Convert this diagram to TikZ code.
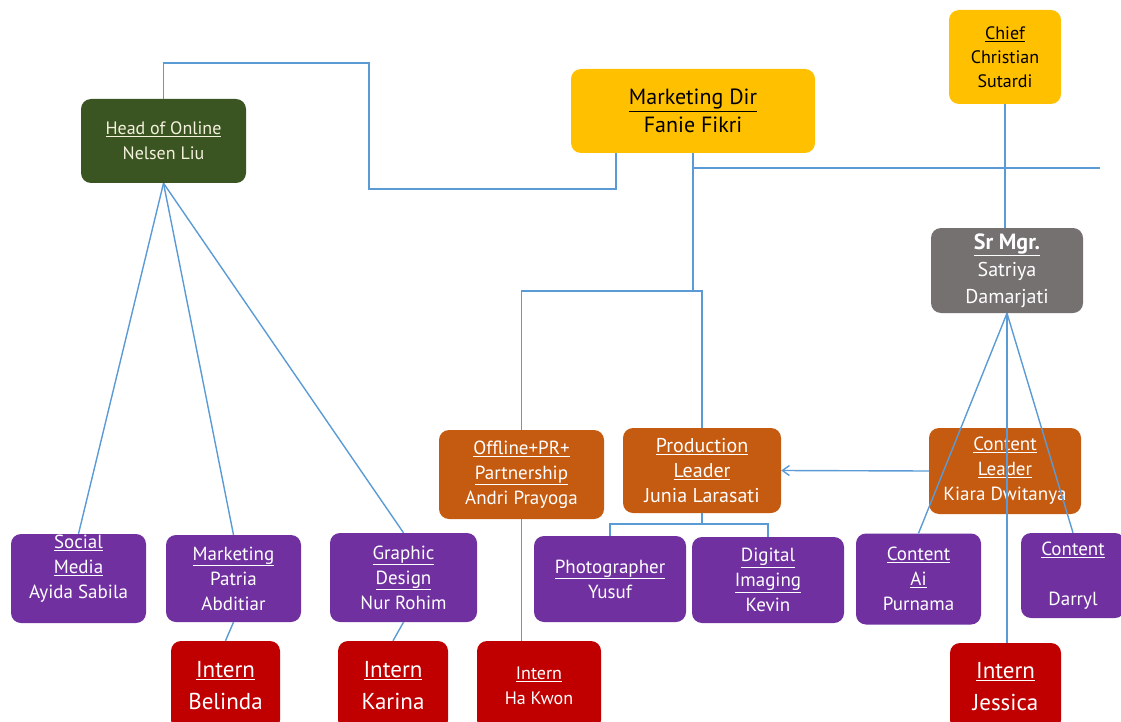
\documentclass[tikz,border=0pt]{standalone}
\usepackage{fontspec}
\setmainfont{PT Sans}
\usetikzlibrary{arrows.meta,calc}
\definecolor{lnk}{HTML}{5B9BD5}
\definecolor{cgreen}{HTML}{3A5422}
\definecolor{cgold}{HTML}{FFC000}
\definecolor{cgray}{HTML}{767171}
\definecolor{corange}{HTML}{C55A11}
\definecolor{cpurple}{HTML}{7030A0}
\definecolor{cred}{HTML}{C00000}
\definecolor{ccream}{HTML}{F4F1DC}
\begin{document}
\begin{tikzpicture}[x=1pt,y=-1pt,
  box/.style={rounded corners=10pt, align=center, inner sep=0pt, text=white, draw=none},
  gbox/.style={box, fill=cgreen, text=ccream, font=\fontsize{18}{25}\selectfont},
  ybox/.style={box, fill=cgold, text=black},
  rbox/.style={box, fill=corange, font=\fontsize{19}{25}\selectfont},
  pbox/.style={box, fill=cpurple, font=\fontsize{19}{25}\selectfont},
  ibox/.style={box, fill=cred, font=\fontsize{23}{32}\selectfont},
  conn/.style={draw=lnk, line width=1.4pt}]
\useasboundingbox (0,0) rectangle (1121,722);
\clip (0,0) rectangle (1121,722);

% nodes
\node[gbox, minimum width=165pt, minimum height=84pt] (head) at (163.5,141) {\underline{Head of Online}\\Nelsen Liu};
\node[ybox, minimum width=244pt, minimum height=84pt, font=\fontsize{22}{28}\selectfont] (mdir) at (693,111) {\underline{Marketing Dir}\\Fanie Fikri};
\node[ybox, minimum width=112pt, minimum height=94pt, font=\fontsize{18}{24}\selectfont] (chief) at (1005,57) {\underline{Chief}\\Christian\\Sutardi};
\node[box, fill=cgray, minimum width=152pt, minimum height=85pt, font=\fontsize{20}{27}\selectfont] (srmgr) at (1007,270.5) {{\fontsize{22}{27}\selectfont\bfseries\underline{Sr Mgr.}}\\Satriya\\Damarjati};
\node[rbox, minimum width=165pt, minimum height=89pt] (offline) at (521.5,474.5) {\underline{Offline+PR+}\\\underline{Partnership}\\Andri Prayoga};
\node[rbox, minimum width=158pt, minimum height=85pt, font=\fontsize{20}{25}\selectfont] (prod) at (702,470.5) {\underline{Production}\\\underline{Leader}\\Junia Larasati};
\node[rbox, minimum width=152pt, minimum height=86pt] (cleader) at (1005,471) {\underline{Content}\\\underline{Leader}\\Kiara Dwitanya};
\node[pbox, minimum width=135pt, minimum height=89pt] (social) at (78.5,578.5) {};
\node[pbox, fill=none] (socialtext) at (78.5,569) {\underline{Social}\\\underline{Media}\\Ayida Sabila};
\node[pbox, minimum width=135pt, minimum height=87pt] (mkt) at (233.5,578.5) {\underline{Marketing}\\Patria\\Abditiar};
\node[pbox, minimum width=147pt, minimum height=89pt] (graphic) at (403.5,577.5) {\underline{Graphic}\\\underline{Design}\\Nur Rohim};
\node[pbox, minimum width=152pt, minimum height=86pt] (photo) at (610,579) {\underline{Photographer}\\Yusuf};
\node[pbox, minimum width=152pt, minimum height=86pt] (digital) at (768,580) {\underline{Digital}\\\underline{Imaging}\\Kevin};
\node[pbox, minimum width=125pt, minimum height=91pt] (cai) at (918.5,579) {\underline{Content}\\\underline{Ai}\\Purnama};
\node[pbox, minimum width=104pt, minimum height=85pt] (darryl) at (1073,575.5) {\underline{Content}\\\mbox{}\\Darryl};
\node[ibox, minimum width=109pt, minimum height=89pt] (belinda) at (225.5,685.5) {\underline{Intern}\\Belinda};
\node[ibox, minimum width=110pt, minimum height=89pt] (karina) at (393,685.5) {\underline{Intern}\\Karina};
\node[ibox, minimum width=124pt, minimum height=89pt, font=\fontsize{18}{25}\selectfont] (hakwon) at (539,685.5) {\underline{Intern}\\Ha Kwon};
\node[ibox, minimum width=111pt, minimum height=87pt] (jessica) at (1005.5,686.5) {\underline{Intern}\\Jessica};

% helper coordinates
\coordinate (k1) at (369,63);
\coordinate (k2) at (369,189);
\coordinate (j) at (693,291);
\coordinate (pj) at (703,524);
\coordinate (rend) at (1100,168);

% connectors
\draw[conn] (head.north) |- (k1) -- (k2) -| ($(mdir.south west)+(45,0)$);
\draw[conn] (mdir.south) -- (j);
\draw[conn] (offline.north) |- (j) -| (prod.north);
\draw[conn] (mdir.south |- rend) -- (rend);
\draw[conn] (chief.south) -- (chief.south |- srmgr.north);
\draw[conn] (prod.south) -- (prod.south |- pj);
\draw[conn] (photo.north) |- (digital.north |- pj) -- (digital.north);
\draw[conn, -{Straight Barb[length=7pt,width=10pt]}] (cleader.west) -- (prod.east);
\draw[conn] (head.south) -- (social.north);
\draw[conn] (head.south) -- (mkt.north);
\draw[conn] (head.south) -- (graphic.north);
\draw[conn] (mkt.south) -- (belinda.north);
\draw[conn] (graphic.south) -- (karina.north);
\draw[conn] (offline.south) -- (offline.south |- hakwon.north);
\draw[conn] (srmgr.south) -- (cai.north);
\draw[conn] (srmgr.south) -- (darryl.north);
\draw[conn] (srmgr.south) -- (srmgr.south |- jessica.north);
\end{tikzpicture}
\end{document}
